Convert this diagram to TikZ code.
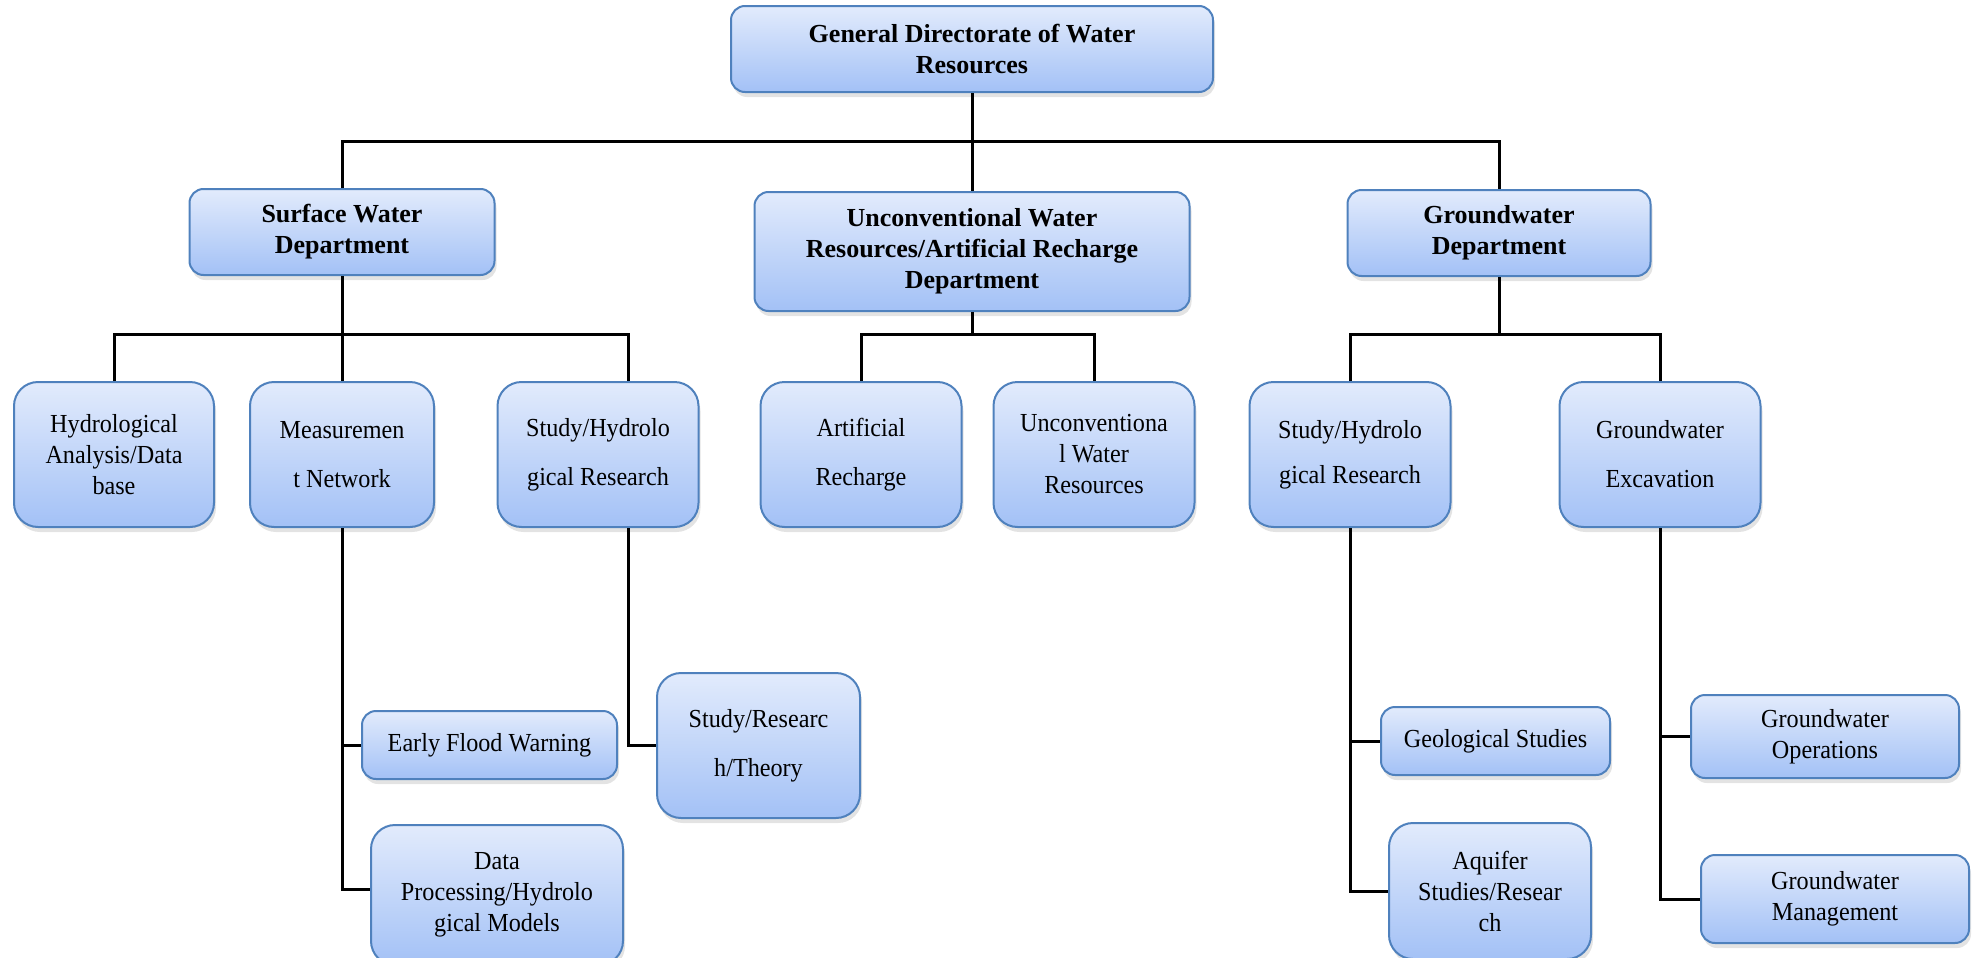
\documentclass[tikz,border=0pt]{standalone}
\usepackage{fontspec}
\setmainfont{Liberation Serif}
\newfontfamily\unitfont{Liberation Serif}[FakeStretch=0.93]
\usetikzlibrary{shadows}
\definecolor{BoxTop}{HTML}{E2EBFC}
\definecolor{BoxBot}{HTML}{A3C1F6}
\definecolor{BoxLine}{HTML}{4F81BD}

\begin{document}
\begin{tikzpicture}[x=.5pt,y=-.5pt,
    unit/.style={draw=BoxLine,line width=1pt,rounded corners=7pt,top color=BoxTop,bottom color=BoxBot,
      align=center,inner sep=0pt,font=\unitfont\fontsize{13}{15.5}\selectfont,
      drop shadow={shadow xshift=1pt,shadow yshift=-2.5pt,opacity=.22}},
    tallunit/.style={unit,rounded corners=12pt,minimum width=100.5pt,minimum height=72.5pt},
    head/.style={unit,font=\fontsize{13}{15.5}\selectfont\bfseries},
    link/.style={line width=1.5pt,black}]
        \useasboundingbox(0,0)rectangle(1977,958);
        % directorate and departments
        \node[head,minimum width=241pt,minimum height=43pt](gdwr)at(972,49){General Directorate of Water\\Resources};
        \node[head,minimum width=152.5pt,minimum height=43pt](sw)at(342,232){Surface Water\\Department};
        \node[head,minimum width=217.5pt,minimum height=59.5pt](ucw)at(972,251.5){Unconventional Water\\Resources/Artificial Recharge\\Department};
        \node[head,minimum width=151.5pt,minimum height=43pt](gw)at(1499,233){Groundwater\\Department};
        % units
        \node[tallunit,minimum width=100pt](had)at(114,454.5){Hydrological\\Analysis/Data\\base};
        \node[tallunit,minimum width=92pt](mn)at(342,454.5){Measuremen\\[9pt]t Network};
        \node[tallunit](shr1)at(598,454.5){Study/Hydrolo\\[9pt]gical Research};
        \node[tallunit](ar)at(861,454.5){Artificial\\[9pt]Recharge};
        \node[tallunit](uwr)at(1094,454.5){Unconventiona\\l Water\\Resources};
        \node[tallunit](shr2)at(1350,454.5){Study/Hydrolo\\[7pt]gical Research};
        \node[tallunit](ge)at(1660,454.5){Groundwater\\[9pt]Excavation};
        % sub-units
        \node[unit,minimum width=127.5pt,minimum height=34pt](efw)at(489.5,745){Early Flood Warning};
        \node[unit,rounded corners=12pt,minimum width=126pt,minimum height=70pt](dp)at(497,895){Data\\Processing/Hydrolo\\gical Models};
        \node[tallunit,minimum width=101.5pt](srt)at(758.5,745.5){Study/Researc\\[9pt]h/Theory};
        \node[unit,minimum width=114.5pt,minimum height=34pt](gs)at(1495.5,741){Geological Studies};
        \node[unit,rounded corners=12pt,minimum width=101pt,minimum height=68pt](asr)at(1490,891){Aquifer\\Studies/Resear\\ch};
        \node[unit,minimum width=134pt,minimum height=41.5pt](gwo)at(1825,736.5){Groundwater\\Operations};
        \node[unit,minimum width=134pt,minimum height=44pt](gwm)at(1835,899){Groundwater\\Management};
        % connectors
        \coordinate(b1)at(0,141);
        \coordinate(b2)at(0,334);
        \draw[link](gdwr.south)--(ucw.north);
        \draw[link](sw.north)--(sw.north|-b1)--(gw.north|-b1)--(gw.north);
        \draw[link](sw.south)--(mn.north);
        \draw[link](had.north)--(had.north|-b2)--([xshift=15pt]shr1.north|-b2)--([xshift=15pt]shr1.north);
        \draw[link](ucw.south)--(ucw.south|-b2);
        \draw[link](ar.north)--(ar.north|-b2)--(uwr.north|-b2)--(uwr.north);
        \draw[link](gw.south)--(gw.south|-b2);
        \draw[link](shr2.north)--(shr2.north|-b2)--(ge.north|-b2)--(ge.north);
        \draw[link](mn.south)|-([yshift=3pt]dp.west);
        \draw[link](mn.south|-efw.west)--(efw.west);
        \draw[link]([xshift=15pt]shr1.south)|-(srt.west);
        \draw[link](shr2.south)|-(asr.west);
        \draw[link](shr2.south|-gs.west)--(gs.west);
        \draw[link](ge.south)|-(gwm.west);
        \draw[link](ge.south|-gwo.west)--(gwo.west);
      \end{tikzpicture}
\end{document}
